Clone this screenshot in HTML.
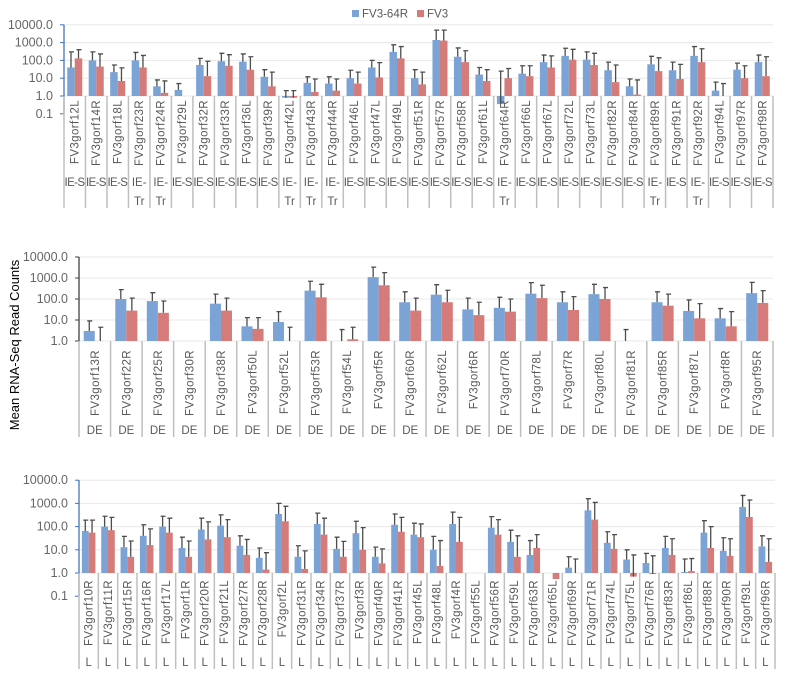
<!DOCTYPE html>
<html><head><meta charset="utf-8"><style>
html,body{margin:0;padding:0;background:#fff;width:785px;height:677px;overflow:hidden}
svg{display:block;font-family:"Liberation Sans",sans-serif}
</style></head><body>
<svg id="chart" width="785" height="677" viewBox="0 0 785 677" xmlns="http://www.w3.org/2000/svg">
<g>
<rect x="352" y="10" width="7" height="7" fill="#7ba3d5"/>
<text x="362" y="17.5" font-size="11.5" fill="#595959">FV3-64R</text>
<rect x="417" y="10" width="7" height="7" fill="#d57b79"/>
<text x="427" y="17.5" font-size="11.5" fill="#595959">FV3</text>
</g>
<text transform="translate(19,345) rotate(-90)" text-anchor="middle" font-size="13" fill="#000">Mean RNA-Seq Read Counts</text>
</svg>
<script>
// Panel 1 (IE)
const cats1=["12L","14R","18L","23R","24R","29L","32R","33R","36L","39R","42L","43R","44R","46L","47L","49L","51R","57R","58R","61L","64R","66L","67L","72L","73L","82R","84R","89R","91R","92R","94L","97R","98R"];
const grp1=["IE-S","IE-S","IE-S","IE-Tr","IE-Tr","IE-S","IE-S","IE-S","IE-S","IE-S","IE-Tr","IE-Tr","IE-Tr","IE-S","IE-S","IE-S","IE-S","IE-S","IE-S","IE-S","IE-Tr","IE-S","IE-S","IE-S","IE-S","IE-S","IE-S","IE-Tr","IE-S","IE-Tr","IE-S","IE-S","IE-S"];
const blue1=[40,100,22,100,3.5,2.2,55,90,85,12,0.8,5.5,5,10,40,300,10,1400,160,16,0.35,18,80,180,110,28,3.5,60,28,180,2,30,80];
const red1=[130,45,7,40,1.5,0,13,50,30,3.5,0.8,1.7,2,5,11,130,4.5,1300,80,7,10,13,40,110,55,6,1.2,25,9,80,0,10,13];
const blueErr1=[300,300,55,280,8,5,130,250,230,30,2,12,12,28,100,750,30,5000,500,40,25,50,200,480,300,80,9,170,80,600,6,70,200];
const redErr1=[400,230,38,190,7,0,90,210,160,22,2,9,9,22,75,600,22,5000,350,30,35,50,180,420,250,55,8,140,60,450,5,50,160];
// Panel 2 (DE)
const cats2=["13R","22R","25R","30R","38R","50L","52L","53R","54L","5R","60R","62L","6R","70R","78L","7R","80L","81R","85R","87L","8R","95R"];
const grp2=cats2.map(()=> "DE");
const blue2=[3,100,80,0,60,5,8,250,0,1100,70,160,32,38,180,70,170,0,70,27,12,190];
const red2=[0,28,22,0,28,3.8,0,120,1.2,450,28,70,17,25,110,30,100,0,48,12,5,65];
const blueErr2=[9,280,200,0,170,13,25,700,3.5,3300,220,480,110,120,600,220,500,3.5,220,90,35,620];
const redErr2=[4.5,110,80,0,110,13,4.5,500,4.5,1800,110,260,70,100,450,130,350,0,170,60,25,250];
// Panel 3 (L)
const cats3=["10R","11R","15R","16R","17L","1R","20R","21L","27R","28R","2L","31R","34R","37R","3R","40R","41R","45L","48L","4R","55L","56R","59L","63R","65L","69R","71R","74L","75L","76R","83R","86L","88R","90R","93L","96R"];
const grp3=cats3.map(()=> "L");
const blue3=[65,100,13,40,100,12,75,110,15,4.5,350,5,130,11,52,5,120,45,10,130,0,90,22,6,0,1.7,500,20,3.8,2.7,12,1.1,55,9,700,14];
const red3=[55,70,5,16,55,5,28,35,6,1.4,170,1.5,45,5,10,2.6,60,35,2,22,0,45,5,12,0.55,0,200,11,0.7,0.9,6,1.2,12,5.5,260,3];
const blueErr3=[190,280,38,120,280,35,230,320,40,12,1000,15,380,35,170,13,350,140,38,420,0,270,70,25,0,5,1600,60,10,7,38,4,180,33,2200,40];
const redErr3=[190,250,24,80,230,24,160,200,28,7.5,750,9,230,23,90,11,250,130,25,250,0,200,40,45,0,4,1100,45,6,5.5,30,4.2,100,30,1400,30];

const NS="http://www.w3.org/2000/svg";
const svg=document.getElementById("chart");
function mk(tag,attrs,parent){const e=document.createElementNS(NS,tag);for(const k in attrs)e.setAttribute(k,attrs[k]);(parent||svg).appendChild(e);return e;}

function drawPanel(p){
  const g=mk("g",{});
  
  
  const yOf=v=>p.base-Math.log10(v)*p.dec;
  const cw=(p.x1-p.x0)/p.cats.length;
  p.ticks.forEach(t=>{
    const y=yOf(t);
    if(t>=1){const gl=mk("line",{x1:p.x0,x2:p.x1,y1:y,y2:y,stroke:"#e8e8e8","stroke-width":1},g);
      
      }
    const tk=mk("line",{x1:p.x0-4,x2:p.x0,y1:y,y2:y,stroke:p.axisColor,"stroke-width":1},g);
    
    
    const tl=mk("text",{x:p.x0-11,y:y+4,"text-anchor":"end","font-size":12.5,fill:"#666"},g);
    tl.textContent=t.toFixed(1);
    
    
  });
  const ax=mk("line",{x1:p.x0,x2:p.x0,y1:yOf(p.ticks[0]),y2:yOf(p.ticks[p.ticks.length-1]),stroke:p.axisColor,"stroke-width":1.3},g);
  
  
  for(let i=0;i<=p.cats.length;i++){
    const x=p.x0+i*cw;
    const d=mk("line",{x1:x,x2:x,y1:p.base,y2:p.bottom,stroke:"#bfbfbf","stroke-width":1.5},g);
    
    
  }
  const bw=cw*0.35;
  p.cats.forEach((c,i)=>{
    const cx=p.x0+(i+0.5)*cw;
    [[p.blue[i],p.blueErr[i],cx-bw,"#7ba3d5","bar-fv3-64r"],[p.red[i],p.redErr[i],cx,"#d57b79","bar-fv3"]].forEach(([v,e,x,col,nm])=>{
      if(v>0){
        const y=yOf(v);
        const r=mk("rect",{x:x,y:Math.min(y,p.base),width:bw,height:Math.max(Math.abs(p.base-y),0.5),fill:col},g);
        
        
      }
      if(e>0){
        const ex=x+bw/2, ey=yOf(e), y0=v>0?yOf(v):p.base;
        const l=mk("path",{d:`M${ex},${y0}V${ey}M${ex-2},${ey}H${ex+3}`,stroke:"#4d4d4d","stroke-width":1.3,fill:"none"},g);
        
        
      }
    });
    const t=mk("text",{transform:`translate(${cx+4},${p.labTop}) rotate(-90)`,"text-anchor":"end","font-size":11.5,"letter-spacing":0.4,fill:"#595959"},g);
    t.textContent="FV3gorf"+c;
    
    
    const gs=p.grp[i];
    if(gs==="IE-Tr"){
      const a=mk("text",{x:cx,y:p.grpY,"text-anchor":"middle","font-size":11.5,fill:"#595959"},g);a.textContent="IE-";
      
      
      const b=mk("text",{x:cx,y:p.grpY+19,"text-anchor":"middle","font-size":11.5,fill:"#595959"},g);b.textContent="Tr";
      
      
    } else {
      const a=mk("text",{x:cx,y:p.grpY,"text-anchor":"middle","font-size":11.5,fill:"#595959"},g);
      if(gs.length>2)a.setAttribute("textLength",Math.min(cw-1,22));
      a.textContent=gs;
      
      
    }
  });
}
drawPanel({name:"panel-ie",cats:cats1,grp:grp1,blue:blue1,red:red1,blueErr:blueErr1,redErr:redErr1,x0:64,x1:773,base:96,dec:17.8,ticks:[10000,1000,100,10,1,0.1],bottom:208,labTop:100,grpY:186,axisColor:"#4472c4"});
drawPanel({name:"panel-de",cats:cats2,grp:grp2,blue:blue2,red:red2,blueErr:blueErr2,redErr:redErr2,x0:79,x1:773,base:341,dec:21,ticks:[10000,1000,100,10,1],bottom:437,labTop:350,grpY:434,axisColor:"#404040"});
drawPanel({name:"panel-l",cats:cats3,grp:grp3,blue:blue3,red:red3,blueErr:blueErr3,redErr:redErr3,x0:79,x1:775,base:573,dec:23.2,ticks:[10000,1000,100,10,1,0.1],bottom:669,labTop:580,grpY:666,axisColor:"#4472c4"});
</script>
</body></html>
